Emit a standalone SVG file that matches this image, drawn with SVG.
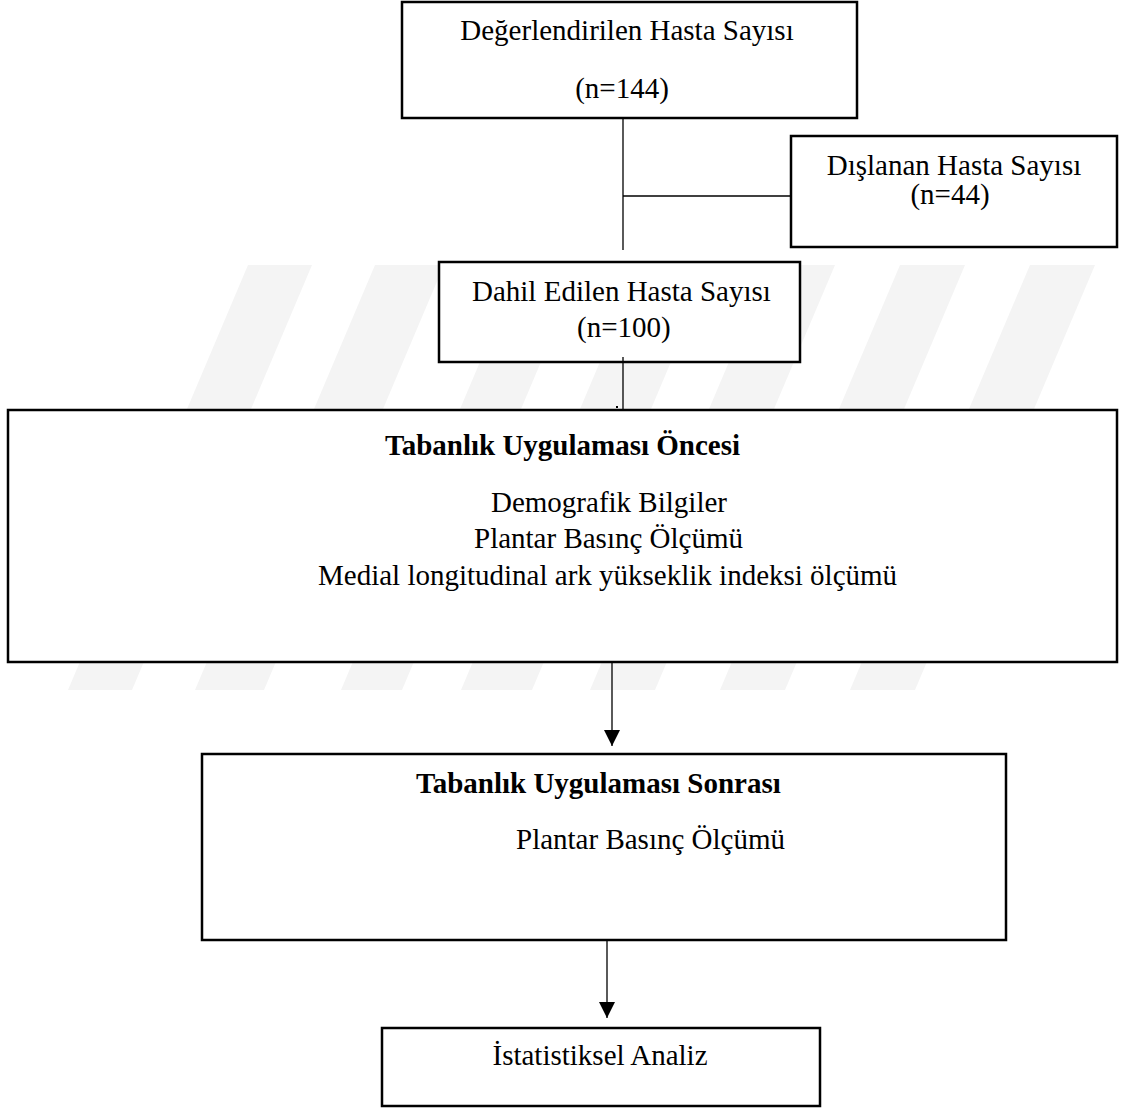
<svg xmlns="http://www.w3.org/2000/svg" width="1121" height="1108" viewBox="0 0 1121 1108">
<defs>
<style>
.box{fill:#fff;stroke:#000;stroke-width:2.5}
.t{font-family:"Liberation Serif","Times New Roman",serif;font-size:29px;fill:#000}
.b{font-weight:bold}
.c{text-anchor:middle}
.ln{stroke:#000;stroke-width:1.3;fill:none}
.wm{fill:#f4f4f4}
</style>
<marker id="ah" viewBox="0 0 16 16" markerWidth="16" markerHeight="16" refX="16" refY="8" orient="auto" markerUnits="userSpaceOnUse">
<path d="M0,0 L16,8 L0,16 Z" fill="#000"/>
</marker>
</defs>
<rect width="1121" height="1108" fill="#fff"/>
<g id="watermark">
<polygon class="wm" points="68,690 132,690 312,265 248,265"/>
<polygon class="wm" points="195,690 264,690 444,265 375,265"/>
<polygon class="wm" points="341,690 402,690 582,265 521,265"/>
<polygon class="wm" points="461,690 532,690 712,265 641,265"/>
<polygon class="wm" points="590,690 655,690 835,265 770,265"/>
<polygon class="wm" points="720,690 785,690 965,265 900,265"/>
<polygon class="wm" points="850,690 915,690 1095,265 1030,265"/>
</g>
<g id="n1">
<rect class="box" x="402" y="2" width="455" height="116"/>
<text class="t c" x="627" y="40">Değerlendirilen Hasta Sayısı</text>
<text class="t c" x="622" y="98">(n=144)</text>
</g>
<g id="n2">
<rect class="box" x="791" y="136" width="326" height="111"/>
<text class="t c" x="954" y="175">Dışlanan Hasta Sayısı</text>
<text class="t c" x="950" y="204">(n=44)</text>
</g>
<g id="n3">
<rect class="box" x="439" y="262" width="361" height="100"/>
<text class="t" x="472" y="301">Dahil Edilen Hasta Sayısı</text>
<text class="t" x="577" y="337">(n=100)</text>
</g>
<g id="n4">
<rect class="box" x="8" y="410" width="1109" height="252" stroke-width="3"/>
<text class="t b" x="385" y="455">Tabanlık Uygulaması Öncesi</text>
<text class="t" x="491" y="512">Demografik Bilgiler</text>
<text class="t" x="474" y="548">Plantar Basınç Ölçümü</text>
<text class="t" x="318" y="585">Medial longitudinal ark yükseklik indeksi ölçümü</text>
</g>
<g id="n5">
<rect class="box" x="202" y="754" width="804" height="186"/>
<text class="t b" x="416" y="793">Tabanlık Uygulaması Sonrası</text>
<text class="t" x="516" y="849">Plantar Basınç Ölçümü</text>
</g>
<g id="n6">
<rect class="box" x="382" y="1028" width="438" height="78"/>
<text class="t c" x="600" y="1065">İstatistiksel Analiz</text>
</g>
<g id="connectors">
<line class="ln" x1="623" y1="118" x2="623" y2="250"/>
<line class="ln" x1="623" y1="196" x2="791" y2="196"/>
<line class="ln" x1="623" y1="357" x2="623" y2="410"/>
<rect x="616" y="406" width="2" height="2" fill="#000"/>
<line class="ln" x1="612" y1="663" x2="612" y2="746" marker-end="url(#ah)"/>
<line class="ln" x1="607" y1="941" x2="607" y2="1018" marker-end="url(#ah)"/>
</g>
</svg>
